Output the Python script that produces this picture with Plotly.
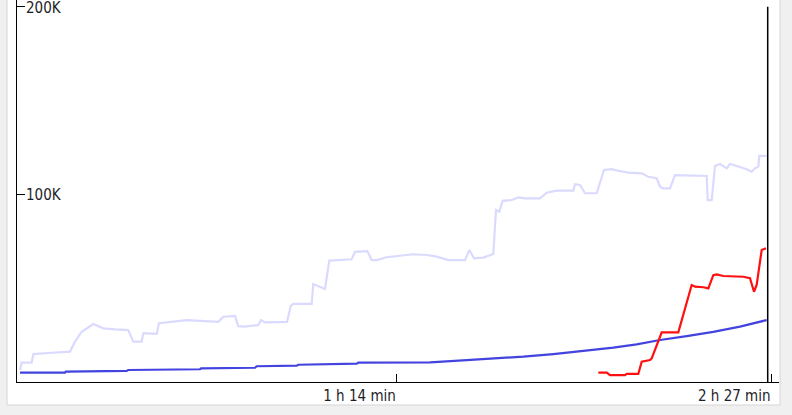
import plotly.graph_objects as go

# time in minutes, values in thousands
lav_x = [0.58, 0.92, 2.86, 3.18, 6.76, 10.33, 11.3, 12.6, 14.86, 16.81, 19.09, 21.68, 22.66, 24.29, 24.61,
         27.22, 27.66, 29.48, 33.06, 39.22, 40.19, 42.47, 43.11, 44.42, 47.01, 47.54, 48.31, 52.6, 53.32,
         53.83, 57.41, 57.72, 59.03, 60.0, 60.84, 65.2, 65.85, 68.25, 69.1, 70.08, 72.03, 75.26, 77.21,
         79.82, 81.77, 84.03, 87.28, 88.12, 89.03, 90.84, 92.79, 93.32, 93.96, 94.62, 96.38, 97.66, 98.97,
         101.89, 103.2, 105.15, 108.38, 108.71, 109.68, 110.66, 112.94, 114.36, 115.86, 117.14, 119.09,
         121.7, 122.99, 124.62, 125.27, 125.79, 127.22, 128.19, 134.37, 134.56, 135.34, 135.98, 136.96,
         138.26, 138.9, 140.21, 142.16, 143.13, 143.78, 144.42, 144.62, 146.05]
lav_y = [6.4, 10.3, 10.3, 14.9, 15.6, 16.2, 21.5, 26.8, 30.9, 28.6, 28.1, 27.7, 21.5, 21.5, 26.0,
         25.6, 31.3, 31.8, 33.0, 32.1, 34.8, 35.2, 29.8, 29.5, 30.4, 33.0, 31.8, 32.0, 40.5,
         41.6, 41.6, 52.2, 50.8, 49.6, 64.7, 65.4, 69.4, 69.8, 65.0, 65.0, 66.5, 67.3, 68.1,
         67.7, 66.8, 65.0, 65.0, 70.4, 65.9, 66.3, 68.2, 91.7, 90.8, 96.6, 97.0, 98.4, 97.9,
         97.9, 100.9, 102.0, 102.0, 105.4, 105.0, 100.6, 100.6, 113.0, 113.5, 112.6, 111.6,
         111.2, 109.4, 108.6, 104.1, 103.2, 103.2, 110.3, 109.8, 97.0, 97.0, 115.1, 116.2,
         113.9, 116.2, 115.1, 113.4, 112.1, 113.9, 114.8, 120.5, 120.5]

blue_x = [0.58, 9.35, 9.49, 21.37, 21.68, 35.65, 35.85, 46.37, 46.7, 54.49, 54.8, 59.67, 60.0, 66.18,
          66.49, 73.64, 80.46, 87.61, 94.1, 98.64, 104.48, 110.33, 116.17, 120.73, 125.27, 130.47,
          135.65, 140.85, 146.05]
blue_y = [5.0, 5.0, 5.5, 5.9, 6.4, 6.8, 7.3, 7.6, 8.4, 8.7, 9.2, 9.4, 9.8, 9.8,
          10.3, 10.5, 10.5, 11.7, 12.6, 13.5, 14.9, 16.4, 18.3, 20.1, 22.4, 24.5,
          26.7, 29.5, 33.0]

red_x = [113.25, 114.89, 115.53, 118.45, 118.78, 121.04, 121.7, 123.32, 123.65, 125.6, 128.83, 131.44,
         132.09, 133.7, 134.68, 135.65, 136.31, 137.6, 141.5, 142.8, 143.58, 144.1, 145.08, 145.92]
red_y = [5.0, 5.0, 3.7, 3.7, 4.3, 4.3, 10.8, 11.7, 12.6, 26.5, 26.5, 51.7,
         50.8, 50.5, 49.9, 57.0, 57.4, 56.5, 56.1, 55.3, 48.1, 51.7, 70.4, 71.3]

cursor_x = [146.25, 146.25]
cursor_y = [0, 200]

x_ticks = [74, 147]
x_tick_text = ["1 h 14 min", "2 h 27 min"]
y_ticks = [100000, 200000]
y_tick_text = ["100K", "200K"]

K = 1000
fig = go.Figure()
fig.add_trace(go.Scatter(x=lav_x, y=[v * K for v in lav_y], mode="lines",
                         line=dict(color="#dadaff", width=2.2)))
fig.add_trace(go.Scatter(x=blue_x, y=[v * K for v in blue_y], mode="lines",
                         line=dict(color="#4343e0", width=2.2)))
fig.add_trace(go.Scatter(x=red_x, y=[v * K for v in red_y], mode="lines",
                         line=dict(color="#ff1010", width=2.2)))
fig.add_trace(go.Scatter(x=cursor_x, y=[v * K for v in cursor_y], mode="lines",
                         line=dict(color="#000000", width=1.5)))

font = dict(family="DejaVu Sans Condensed, Liberation Sans Narrow, sans-serif", size=15,
            color="#1e1e28")

annotations = [dict(x=0, y=v, xref="paper", yref="y", text=t, showarrow=False,
                    xanchor="left", yanchor="middle", xshift=7, yshift=-1, font=font)
               for v, t in zip(y_ticks, y_tick_text)]

fig.update_layout(
    width=792, height=415,
    margin=dict(l=17, r=13, t=0, b=33),
    paper_bgcolor="#f0f0f0",
    plot_bgcolor="rgba(0,0,0,0)",
    showlegend=False,
    hovermode=False,
    font=font,
    xaxis=dict(range=[0, 148.45], tickvals=x_ticks, ticktext=x_tick_text,
               ticks="inside", ticklen=8, tickcolor="#000", tickwidth=1,
               ticklabelposition="outside left", automargin=False,
               showline=True, linecolor="#000", linewidth=1,
               showgrid=False, zeroline=False, fixedrange=True),
    yaxis=dict(range=[0, 203625], tickvals=y_ticks, ticktext=["", ""],
               ticks="inside", ticklen=8, tickcolor="#000", tickwidth=1,
               automargin=False,
               showline=True, linecolor="#000", linewidth=1,
               showgrid=False, zeroline=False, fixedrange=True),
    annotations=annotations,
    shapes=[dict(type="rect", xref="paper", yref="paper",
                 x0=(7 - 17) / 762, x1=(780 - 17) / 762,
                 y0=-(405 - 382) / 382, y1=1.05,
                 fillcolor="#ffffff", line=dict(color="#d4d4d4", width=1),
                 layer="below")],
)

fig.write_html("out.html", config={"displayModeBar": False},
               post_script="document.body.style.margin='0';document.body.style.overflow='hidden';")
